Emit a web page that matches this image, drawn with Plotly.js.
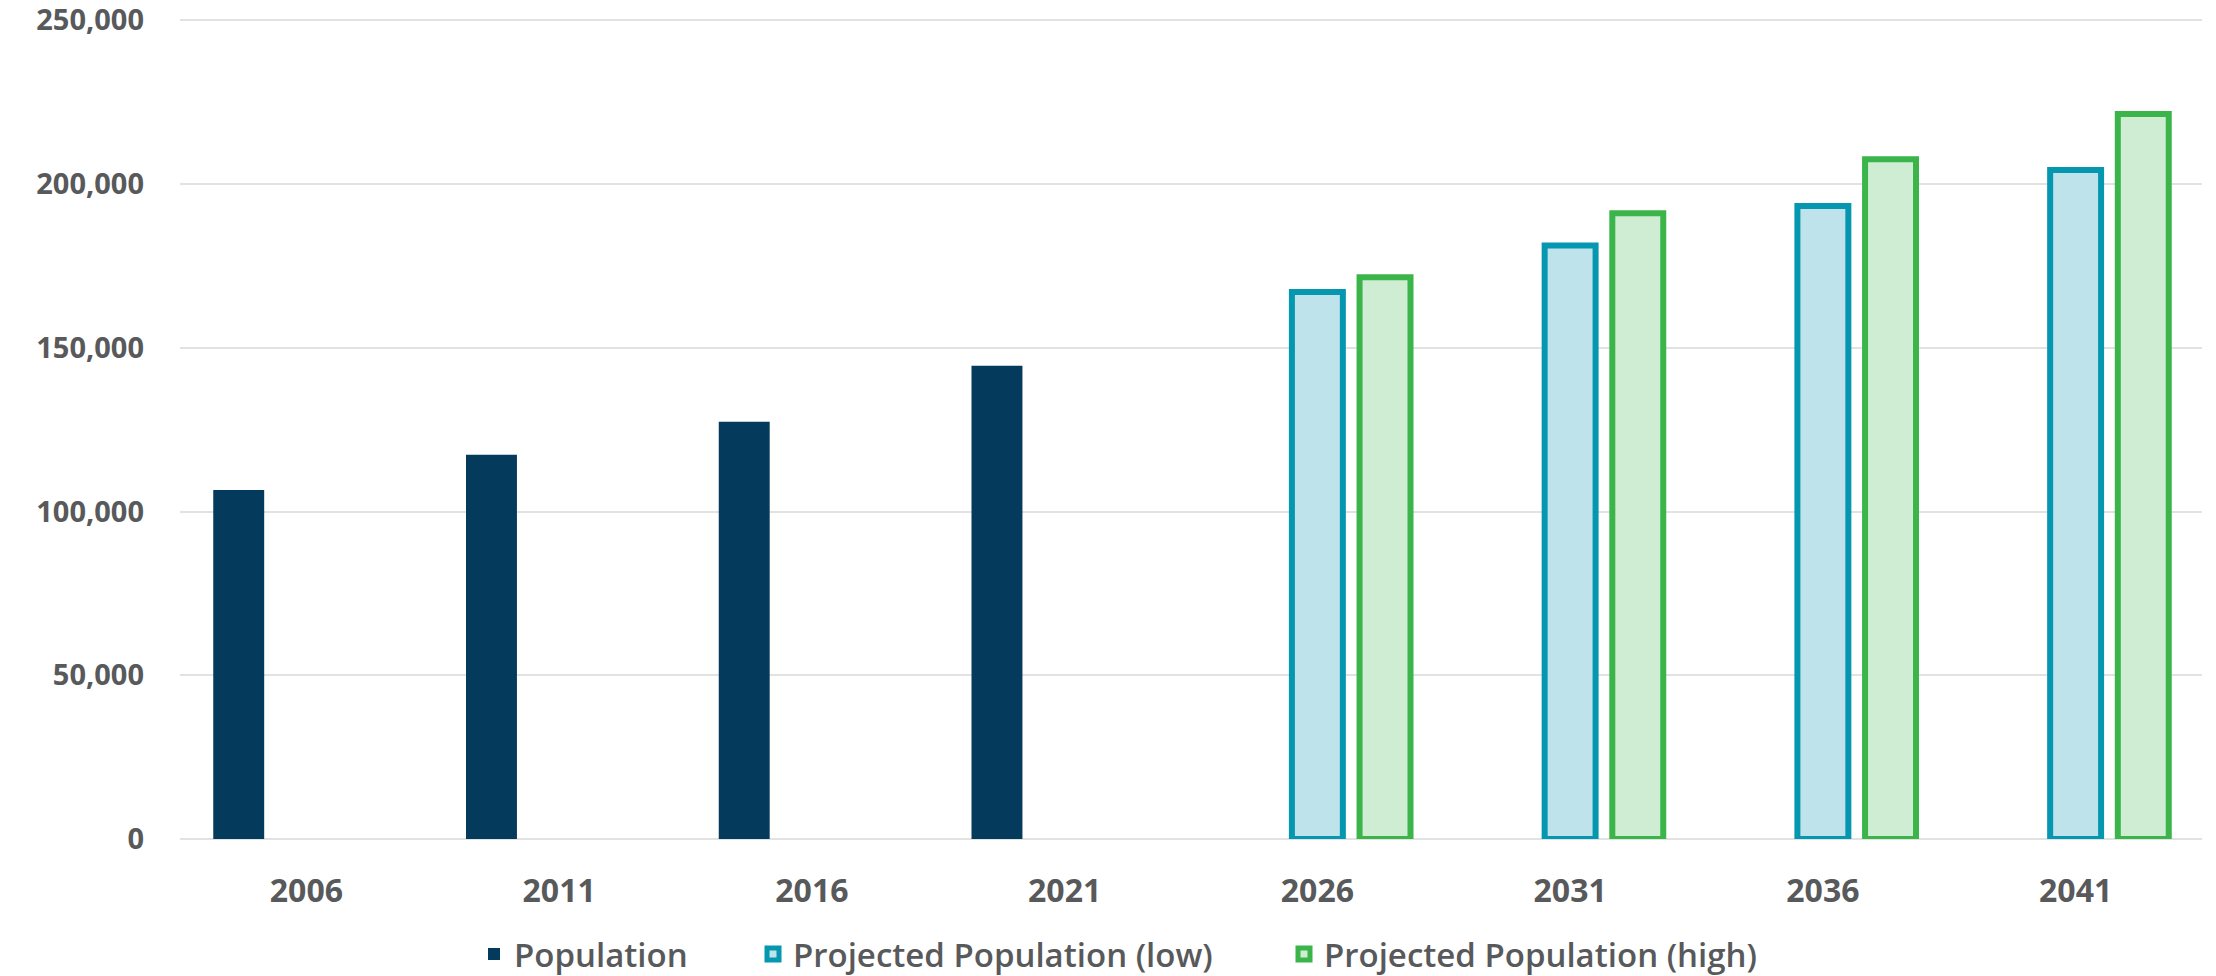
<!DOCTYPE html>
<html>
<head>
<meta charset="utf-8">
<script src="https://cdn.plot.ly/plotly-3.0.1.min.js"></script>
<style>
  html, body { margin: 0; padding: 0; background: #ffffff; }
  #chart { width: 2216px; height: 976px; }
</style>
</head>
<body>
<div id="chart"></div>
<script>
// Categories (census / projection years)
const years = ["2006", "2011", "2016", "2021", "2026", "2031", "2036", "2041"];

// Series values (null = no bar for that year)
const population     = [106600, 117300, 127400, 144500, null, null, null, null];
const projectedLow   = [null, null, null, null, 167000, 181200, 193300, 204300];
const projectedHigh  = [null, null, null, null, 171500, 191100, 207600, 221400];

const seriesNames = ["Population", "Projected Population (low)", "Projected Population (high)"];

const yTicks = [0, 50000, 100000, 150000, 200000, 250000];

const textColor = "#58595B";
const legendFont = { family: "'Open Sans', sans-serif", size: 33, weight: 600, color: textColor };

function legendAt(px) {
  return {
    orientation: "h",
    xref: "container", yref: "container",
    x: px / 2216, xanchor: "left",
    y: 0.0225, yanchor: "middle",
    font: legendFont,
    itemwidth: 30
  };
}

const traces = [
  {
    type: "bar", name: seriesNames[0], x: years, y: population,
    marker: { color: "#043A5C", line: { width: 0 } },
    legend: "legend"
  },
  {
    type: "bar", name: seriesNames[1], x: years, y: projectedLow,
    marker: { color: "#BFE3EB", line: { color: "#0596B0", width: 6 } },
    legend: "legend2"
  },
  {
    type: "bar", name: seriesNames[2], x: years, y: projectedHigh,
    marker: { color: "#CFEDD3", line: { color: "#3BB54A", width: 6 } },
    legend: "legend3"
  }
];

const layout = {
  width: 2216, height: 976,
  paper_bgcolor: "#ffffff", plot_bgcolor: "#ffffff",
  margin: { l: 180, r: 14, t: 17, b: 137 },
  barmode: "group",
  bargap: 0.197,
  bargroupgap: 0.247,
  font: { family: "'Open Sans', sans-serif", color: textColor },
  xaxis: {
    type: "category",
    tickfont: { family: "'Open Sans', sans-serif", size: 32, weight: 700, color: textColor },
    ticks: "", showgrid: false, zeroline: false, showline: false,
    ticklabelstandoff: 30
  },
  yaxis: {
    range: [0, 251000],
    tickvals: yTicks,
    tickformat: ",",
    tickfont: { family: "'Open Sans', sans-serif", size: 29, weight: 700, color: textColor },
    ticks: "",
    ticklabeloverflow: "allow",
    showgrid: true, gridcolor: "#E2E2E2", gridwidth: 2,
    zeroline: true, zerolinecolor: "#E2E2E2", zerolinewidth: 2,
    showline: false,
    ticklabelstandoff: 35
  },
  showlegend: true,
  legend: legendAt(474),
  legend2: legendAt(753),
  legend3: legendAt(1284)
};

Plotly.newPlot("chart", traces, layout, { displayModeBar: false, staticPlot: true });
</script>
</body>
</html>
